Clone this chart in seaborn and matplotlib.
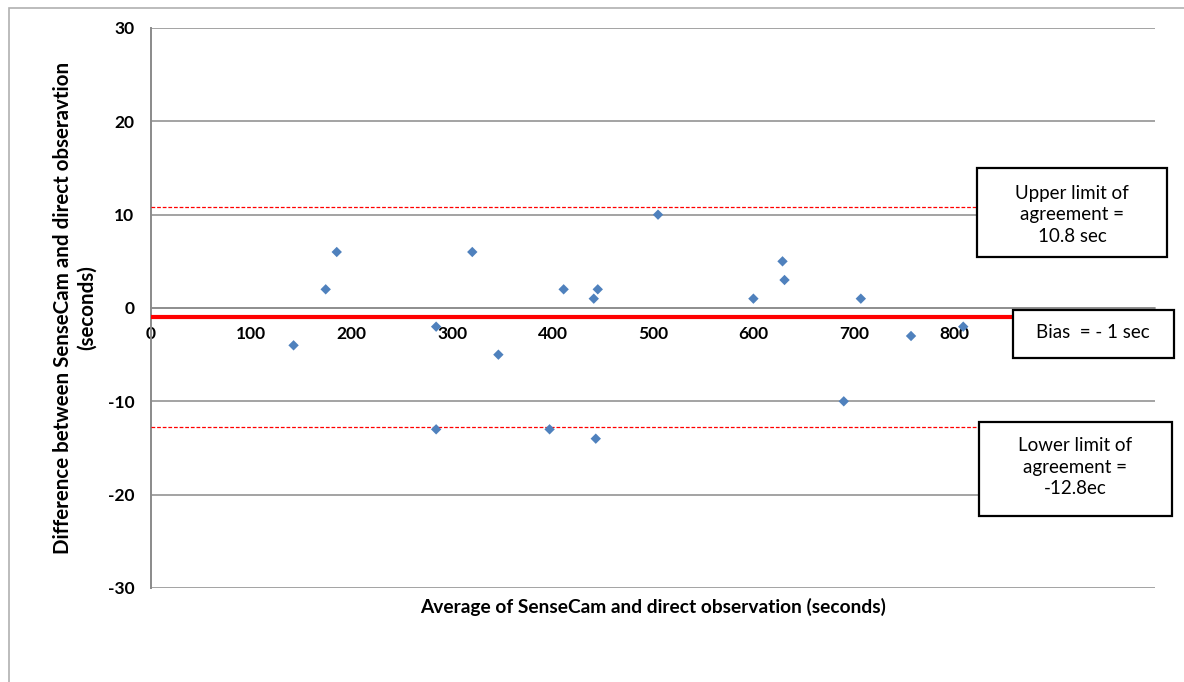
"""
Bland-Altman plot: SenseCam vs direct observation.
"""
import matplotlib
matplotlib.use("Agg")
import matplotlib.pyplot as plt
from matplotlib.patches import Rectangle
import seaborn as sns
import pandas as pd

# data
avg_seconds = [142, 174, 185, 284, 284, 320, 346, 397, 411, 441,
               445, 443, 505, 600, 629, 631, 690, 707, 757, 809]
diff_seconds = [-4, 2, 6, -2, -13, 6, -5, -13, 2, 1,
                2, -14, 10, 1, 5, 3, -10, 1, -3, -2]
bias = -1
upper_loa = 10.8
lower_loa = -12.8
# 900 and 1000 sit under the bias box in the reference, so not labelled
x_ticks = [0, 100, 200, 300, 400, 500, 600, 700, 800]
y_ticks = [-30, -20, -10, 0, 10, 20, 30]

df = pd.DataFrame({"avg": avg_seconds, "diff": diff_seconds})

sns.set_theme(style="white")
plt.rcParams["font.family"] = ["Lato", "DejaVu Sans"]
plt.rcParams["axes.unicode_minus"] = False
for key in ["text.color", "axes.labelcolor", "xtick.color", "ytick.color"]:
    plt.rcParams[key] = "black"

W, H = 1184, 682
fig = plt.figure(figsize=(W / 100, H / 100), dpi=100)
ax = fig.add_axes([151 / W, (H - 588) / H, 1004 / W, 560 / H])

GRID = "#8a8a8a"

# outer chart border (runs off the right and bottom of the image)
fig.patches.append(Rectangle((9 / W, -0.1), 1.2, 1 - 8 / H + 0.1,
                             transform=fig.transFigure, fill=False,
                             edgecolor="#b0b0b0", lw=1.2, zorder=0))

sns.scatterplot(data=df, x="avg", y="diff", ax=ax, marker="D", s=28,
                color="#4F81BD", edgecolor="none", zorder=5)

ax.axhline(bias, color="#FF0000", lw=3, zorder=4)
ax.axhline(upper_loa, color="#FF0000", lw=0.9, ls=(0, (3, 1.5)), zorder=4)
ax.axhline(lower_loa, color="#FF0000", lw=0.9, ls=(0, (3, 1.5)), zorder=4)

ax.set_xlim(0, 1000)
ax.set_ylim(-30, 30)
ax.set_xticks(x_ticks)
ax.set_yticks(y_ticks)
ax.yaxis.grid(True, color=GRID, lw=1.1)
ax.xaxis.grid(False)
ax.set_axisbelow(True)

for side in ["top", "right"]:
    ax.spines[side].set_visible(False)
ax.spines["left"].set_color(GRID)
ax.spines["left"].set_linewidth(1.4)
ax.spines["bottom"].set_position(("data", 0))
ax.spines["bottom"].set_color(GRID)
ax.spines["bottom"].set_linewidth(1.1)

ax.tick_params(axis="both", length=0, labelsize=12.5)
ax.tick_params(axis="x", pad=13)
ax.tick_params(axis="y", pad=12)
for lbl in ax.get_xticklabels() + ax.get_yticklabels():
    lbl.set_fontweight("bold")

ax.set_xlabel("Average of SenseCam and direct observation (seconds)",
              fontsize=13.8, fontweight="bold", va="center")
ax.xaxis.set_label_coords(0.5, -0.034)
ax.set_ylabel("Difference between SenseCam and direct obseravtion\n(seconds)",
              fontsize=14.8, fontweight="bold", va="center", linespacing=1.25)
ax.yaxis.set_label_coords(-0.0757, 0.5)


def note_box(x0, y0, x1, y1, text, tx, ty):
    # box and text placed in pixel units of the figure
    fig.patches.append(Rectangle((x0 / W, 1 - y1 / H), (x1 - x0) / W, (y1 - y0) / H,
                                 transform=fig.transFigure, facecolor="white",
                                 edgecolor="black", lw=1.6, zorder=10))
    fig.text(tx / W, 1 - ty / H, text, ha="center", va="center",
             fontsize=13.5, linespacing=1.3, zorder=11)


note_box(977, 168, 1167, 257, "Upper limit of\nagreement =\n10.8 sec", 1072, 215)
note_box(1013, 310, 1174, 358, "Bias  = - 1 sec", 1093, 332)
note_box(979, 422, 1172, 516, "Lower limit of\nagreement =\n-12.8ec", 1075, 467)

fig.savefig("out.png", dpi=100)
plt.close(fig)
